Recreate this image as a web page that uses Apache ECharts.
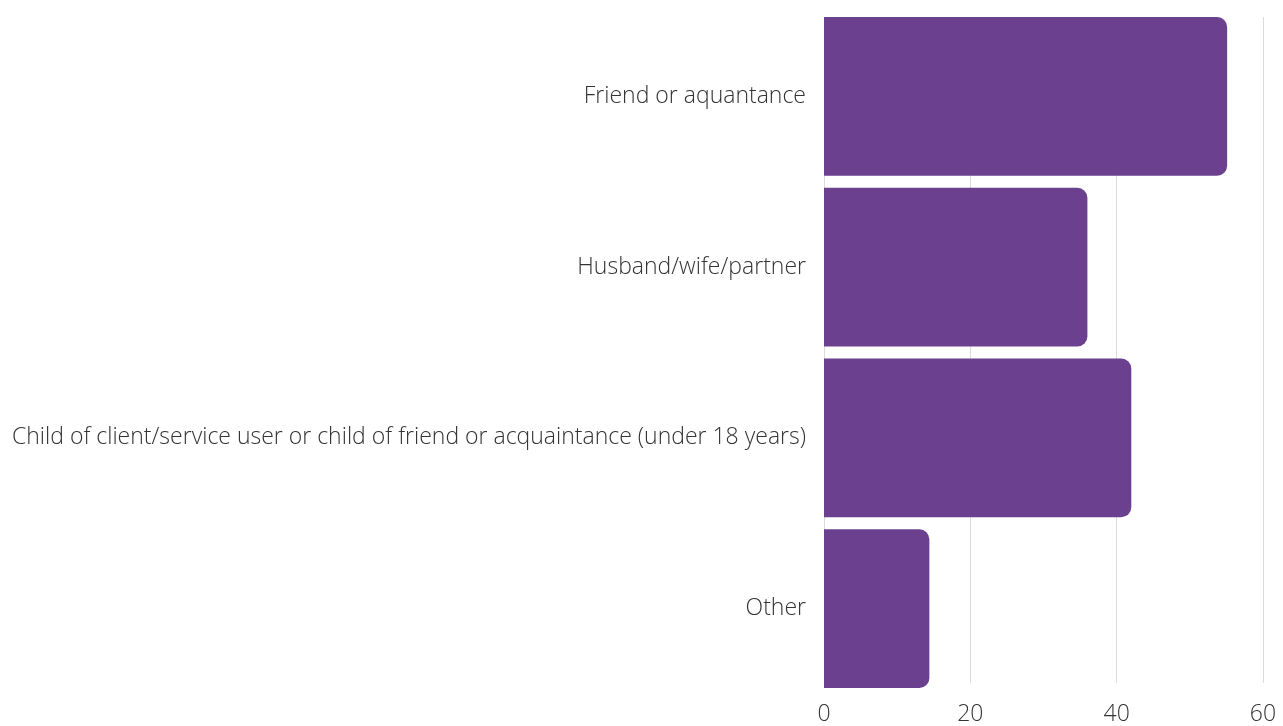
<!DOCTYPE html>
<html>
<head>
<meta charset="utf-8">
<script src="https://cdn.jsdelivr.net/npm/echarts@6/dist/echarts.min.js"></script>
<style>
html,body{margin:0;padding:0;background:#fff;}
#chart{width:1283px;height:726px;}
</style>
</head>
<body>
<div id="chart"></div>
<script>
const categories = [
  "Friend or aquantance",
  "Husband/wife/partner",
  "Child of client/service user or child of friend or acquaintance (under 18 years)",
  "Other"
];
const values = [55.1, 36, 42, 14.4];
const xTicks = [0, 20, 40, 60];

const chart = echarts.init(document.getElementById('chart'), null, {renderer: 'canvas'});
const font = '"Open Sans", "Noto Sans", sans-serif';
const labelStyle = {color: '#333333', fontSize: 23, fontFamily: font, fontWeight: 300};
chart.setOption({
  animation: false,
  grid: [
    {left: 824, right: 20, top: 17, bottom: 38, containLabel: false},
    {left: 824, right: 20, top: 11, bottom: 32, containLabel: false}
  ],
  xAxis: [{
    gridIndex: 0,
    type: 'value',
    min: xTicks[0],
    max: xTicks[xTicks.length - 1],
    interval: 20,
    axisLine: {show: false},
    axisTick: {show: false},
    splitLine: {show: true, lineStyle: {color: '#dcdcdc', width: 1}},
    axisLabel: Object.assign({margin: 20, showMinLabel: true, showMaxLabel: true}, labelStyle)
  }, {
    gridIndex: 1,
    type: 'value',
    min: xTicks[0],
    max: xTicks[xTicks.length - 1],
    interval: 20,
    show: false
  }],
  yAxis: [{
    gridIndex: 0,
    type: 'category',
    data: categories,
    inverse: true,
    show: false
  }, {
    gridIndex: 1,
    type: 'category',
    data: categories,
    inverse: true,
    axisLine: {show: false},
    axisTick: {show: false},
    splitLine: {show: false},
    axisLabel: Object.assign({margin: 18, padding: [4, 0, 0, 0]}, labelStyle)
  }],
  series: [{
    type: 'bar',
    xAxisIndex: 1,
    yAxisIndex: 1,
    data: values,
    barCategoryGap: '7%',
    itemStyle: {color: '#6a408f', borderRadius: [0, 10, 10, 0]}
  }]
});
</script>
</body>
</html>
